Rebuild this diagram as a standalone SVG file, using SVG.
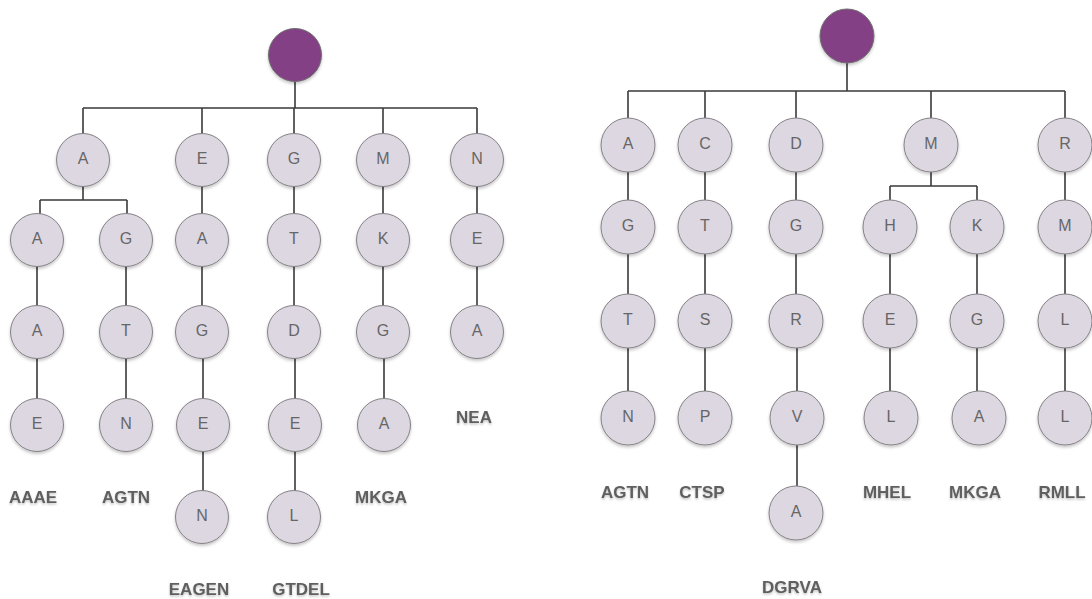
<svg xmlns="http://www.w3.org/2000/svg" width="1092" height="599" viewBox="0 0 1092 599">
  <defs>
    <filter id="shadow" x="-30%" y="-30%" width="160%" height="170%">
      <feDropShadow dx="0" dy="2" stdDeviation="1.6" flood-color="#000" flood-opacity="0.22"/>
    </filter>
    <filter id="tshadow" x="-10%" y="-30%" width="120%" height="180%">
      <feDropShadow dx="0" dy="1.5" stdDeviation="1.2" flood-color="#000" flood-opacity="0.25"/>
    </filter>
  </defs>
  <style>
    .edge { fill: none; stroke: #3a3a3a; stroke-width: 1.6; }
    .root { fill: #833f84; stroke: #6f6f6f; stroke-width: 1; filter: url(#shadow); }
    .node circle { fill: #ddd7e1; stroke: #858085; stroke-width: 1; filter: url(#shadow); }
    .node text { font-family: "Liberation Sans", Arial, sans-serif; font-size: 16px; fill: #666; text-anchor: middle; }
    .label { font-family: "Liberation Sans", Arial, sans-serif; font-size: 17px; font-weight: bold; fill: #5e5e5e; text-anchor: middle; filter: url(#tshadow); }
  </style>

  <!-- connectors -->
  <g id="connectors">
    <!-- left tree -->
    <path class="edge" d="M295,81 V108 M83,108 H477 M83,108 V134 M202,108 V134 M294,108 V134 M383,108 V134 M477,108 V134"/>
    <path class="edge" d="M83,186 V200 M40,200 H127 M40,200 V214 M127,200 V214"/>
    <path class="edge" d="M37,266 V306 M37,358 V398 M126,266 V306 M126,358 V398"/>
    <path class="edge" d="M202,186 V214 M202,266 V306 M203,358 V398 M203,451 V491"/>
    <path class="edge" d="M294,186 V214 M294,266 V306 M295,358 V398 M295,451 V491"/>
    <path class="edge" d="M383,186 V214 M383,266 V306 M384,358 V398"/>
    <path class="edge" d="M477,186 V214 M477,266 V306"/>
    <!-- right tree -->
    <path class="edge" d="M847,63 V91 M628,91 H1065 M628,91 V118 M705,91 V118 M796,91 V118 M931,91 V118 M1065,91 V118"/>
    <path class="edge" d="M931,172 V186 M890,186 H977 M890,186 V200 M977,186 V200"/>
    <path class="edge" d="M628,172 V200 M628,254 V294 M628,348 V391"/>
    <path class="edge" d="M705,172 V200 M705,254 V294 M705,348 V391"/>
    <path class="edge" d="M796,172 V200 M796,254 V294 M797,348 V391 M797,445 V486"/>
    <path class="edge" d="M890,254 V294 M890,348 V391"/>
    <path class="edge" d="M977,254 V294 M977,348 V391"/>
    <path class="edge" d="M1065,172 V200 M1065,254 V294 M1065,348 V391"/>
  </g>

  <!-- left tree nodes -->
  <circle id="root-left" class="root" cx="295" cy="55" r="26.5"/>
  <g id="l-A" class="node"><circle cx="83" cy="160" r="26.5"/><text x="83" y="164">A</text></g>
  <g id="l-E" class="node"><circle cx="202" cy="160" r="26.5"/><text x="202" y="164">E</text></g>
  <g id="l-G" class="node"><circle cx="294" cy="160" r="26.5"/><text x="294" y="164">G</text></g>
  <g id="l-M" class="node"><circle cx="383" cy="160" r="26.5"/><text x="383" y="164">M</text></g>
  <g id="l-N" class="node"><circle cx="477" cy="160" r="26.5"/><text x="477" y="164">N</text></g>

  <g id="l-AA" class="node"><circle cx="37" cy="240" r="26.5"/><text x="37" y="244">A</text></g>
  <g id="l-AG" class="node"><circle cx="126" cy="240" r="26.5"/><text x="126" y="244">G</text></g>
  <g id="l-EA" class="node"><circle cx="202" cy="240" r="26.5"/><text x="202" y="244">A</text></g>
  <g id="l-GT" class="node"><circle cx="294" cy="240" r="26.5"/><text x="294" y="244">T</text></g>
  <g id="l-MK" class="node"><circle cx="383" cy="240" r="26.5"/><text x="383" y="244">K</text></g>
  <g id="l-NE" class="node"><circle cx="477" cy="240" r="26.5"/><text x="477" y="244">E</text></g>

  <g id="l-AAA" class="node"><circle cx="37" cy="332" r="26.5"/><text x="37" y="336">A</text></g>
  <g id="l-AGT" class="node"><circle cx="126" cy="332" r="26.5"/><text x="126" y="336">T</text></g>
  <g id="l-EAG" class="node"><circle cx="202" cy="332" r="26.5"/><text x="202" y="336">G</text></g>
  <g id="l-GTD" class="node"><circle cx="294" cy="332" r="26.5"/><text x="294" y="336">D</text></g>
  <g id="l-MKG" class="node"><circle cx="383" cy="332" r="26.5"/><text x="383" y="336">G</text></g>
  <g id="l-NEA" class="node"><circle cx="477" cy="332" r="26.5"/><text x="477" y="336">A</text></g>

  <g id="l-AAAE" class="node"><circle cx="37" cy="425" r="26.5"/><text x="37" y="429">E</text></g>
  <g id="l-AGTN" class="node"><circle cx="126" cy="425" r="26.5"/><text x="126" y="429">N</text></g>
  <g id="l-EAGE" class="node"><circle cx="203" cy="425" r="26.5"/><text x="203" y="429">E</text></g>
  <g id="l-GTDE" class="node"><circle cx="295" cy="425" r="26.5"/><text x="295" y="429">E</text></g>
  <g id="l-MKGA" class="node"><circle cx="384" cy="425" r="26.5"/><text x="384" y="429">A</text></g>

  <g id="l-EAGEN" class="node"><circle cx="202" cy="517" r="26.5"/><text x="202" y="521">N</text></g>
  <g id="l-GTDEL" class="node"><circle cx="294" cy="517" r="26.5"/><text x="294" y="521">L</text></g>

  <g id="left-words">
    <text class="label" x="33" y="503">AAAE</text>
    <text class="label" x="126" y="503">AGTN</text>
    <text class="label" x="381" y="503">MKGA</text>
    <text class="label" x="474" y="423">NEA</text>
    <text class="label" x="199" y="595">EAGEN</text>
    <text class="label" x="301" y="595">GTDEL</text>
  </g>

  <!-- right tree nodes -->
  <circle id="root-right" class="root" cx="847" cy="36" r="27"/>
  <g id="r-A" class="node"><circle cx="628" cy="145" r="27"/><text x="628" y="149">A</text></g>
  <g id="r-C" class="node"><circle cx="705" cy="145" r="27"/><text x="705" y="149">C</text></g>
  <g id="r-D" class="node"><circle cx="796" cy="145" r="27"/><text x="796" y="149">D</text></g>
  <g id="r-M" class="node"><circle cx="931" cy="145" r="27"/><text x="931" y="149">M</text></g>
  <g id="r-R" class="node"><circle cx="1065" cy="145" r="27"/><text x="1065" y="149">R</text></g>

  <g id="r-AG" class="node"><circle cx="628" cy="227" r="27"/><text x="628" y="231">G</text></g>
  <g id="r-CT" class="node"><circle cx="705" cy="227" r="27"/><text x="705" y="231">T</text></g>
  <g id="r-DG" class="node"><circle cx="796" cy="227" r="27"/><text x="796" y="231">G</text></g>
  <g id="r-MH" class="node"><circle cx="890" cy="227" r="27"/><text x="890" y="231">H</text></g>
  <g id="r-MK" class="node"><circle cx="977" cy="227" r="27"/><text x="977" y="231">K</text></g>
  <g id="r-RM" class="node"><circle cx="1065" cy="227" r="27"/><text x="1065" y="231">M</text></g>

  <g id="r-AGT" class="node"><circle cx="628" cy="321" r="27"/><text x="628" y="325">T</text></g>
  <g id="r-CTS" class="node"><circle cx="705" cy="321" r="27"/><text x="705" y="325">S</text></g>
  <g id="r-DGR" class="node"><circle cx="796" cy="321" r="27"/><text x="796" y="325">R</text></g>
  <g id="r-MHE" class="node"><circle cx="890" cy="321" r="27"/><text x="890" y="325">E</text></g>
  <g id="r-MKG" class="node"><circle cx="977" cy="321" r="27"/><text x="977" y="325">G</text></g>
  <g id="r-RML" class="node"><circle cx="1065" cy="321" r="27"/><text x="1065" y="325">L</text></g>

  <g id="r-AGTN" class="node"><circle cx="628" cy="418" r="27"/><text x="628" y="422">N</text></g>
  <g id="r-CTSP" class="node"><circle cx="705" cy="418" r="27"/><text x="705" y="422">P</text></g>
  <g id="r-DGRV" class="node"><circle cx="797" cy="418" r="27"/><text x="797" y="422">V</text></g>
  <g id="r-MHEL" class="node"><circle cx="891" cy="418" r="27"/><text x="891" y="422">L</text></g>
  <g id="r-MKGA" class="node"><circle cx="979" cy="418" r="27"/><text x="979" y="422">A</text></g>
  <g id="r-RMLL" class="node"><circle cx="1065" cy="418" r="27"/><text x="1065" y="422">L</text></g>

  <g id="r-DGRVA" class="node"><circle cx="796" cy="513" r="27"/><text x="796" y="517">A</text></g>

  <g id="right-words">
    <text class="label" x="625" y="498">AGTN</text>
    <text class="label" x="702" y="498">CTSP</text>
    <text class="label" x="887" y="498">MHEL</text>
    <text class="label" x="975" y="498">MKGA</text>
    <text class="label" x="1062" y="498">RMLL</text>
    <text class="label" x="792" y="593">DGRVA</text>
  </g>
</svg>
